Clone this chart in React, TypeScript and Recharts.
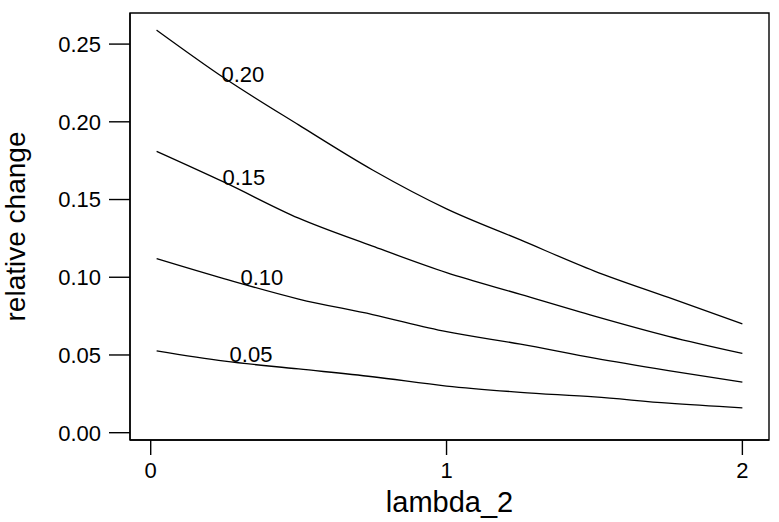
import { LineChart, Line, XAxis, YAxis, ReferenceDot, ReferenceArea } from "recharts";

// lambda_2 grid the contours were traced on
const lambdaValues = [0.02, 0.25, 0.5, 0.75, 1.0, 1.25, 1.5, 1.75, 2.0];

// relative change along each contour level
const level005 = [0.0526, 0.046, 0.041, 0.036, 0.030, 0.026, 0.023, 0.019, 0.016];
const level010 = [0.112, 0.099, 0.086, 0.076, 0.065, 0.057, 0.048, 0.040, 0.0325];
const level015 = [0.181, 0.161, 0.138, 0.120, 0.103, 0.089, 0.075, 0.062, 0.051];
const level020 = [0.259, 0.228, 0.198, 0.169, 0.144, 0.124, 0.104, 0.087, 0.070];

// contour label text and where it sits (data coords)
const labelText = ["0.05", "0.10", "0.15", "0.20"];
const labelX = [0.339, 0.376, 0.315, 0.3115];
const labelY = [0.0507, 0.1003, 0.1641, 0.2305];

const xTicks = [0, 1, 2];
const yTicks = [0, 0.05, 0.1, 0.15, 0.2, 0.25];
const xDomain: [number, number] = [-0.07, 2.09];
const yDomain: [number, number] = [-0.0047, 0.27];

const data = lambdaValues.map((x, i) => ({
  x,
  l005: level005[i],
  l010: level010[i],
  l015: level015[i],
  l020: level020[i],
}));

const FONT = '"Liberation Sans", Arial, Helvetica, sans-serif';
const tickStyle = { fill: "#000", fontSize: 22, fontFamily: FONT };
const axisStroke = { stroke: "#000", strokeWidth: 1.4 };

export default function App() {
  return (
    <div style={{ position: "absolute", left: 0, top: 0, background: "#fff" }}>
      <LineChart
        width={779}
        height={522}
        data={data}
        margin={{ top: 13, right: 10, bottom: 0, left: 0 }}
      >
        <XAxis
          dataKey="x"
          type="number"
          domain={xDomain}
          ticks={xTicks}
          tickFormatter={(v) => String(v)}
          height={82}
          tickSize={15}
          tickMargin={7}
          tick={tickStyle}
          axisLine={axisStroke}
          tickLine={axisStroke}
          label={{
            value: "lambda_2",
            position: "insideBottom",
            offset: 10,
            style: { fill: "#000", fontSize: 29, fontFamily: FONT },
          }}
        />
        <YAxis
          type="number"
          domain={yDomain}
          ticks={yTicks}
          tickFormatter={(v: number) => v.toFixed(2)}
          width={130}
          tickSize={21}
          tickMargin={8}
          tick={tickStyle}
          axisLine={axisStroke}
          tickLine={axisStroke}
          label={{
            value: "relative change",
            angle: -90,
            position: "insideLeft",
            offset: 15,
            style: { fill: "#000", fontSize: 28, fontFamily: FONT, textAnchor: "middle" },
          }}
        />
        {/* plot frame */}
        <ReferenceArea
          x1={xDomain[0]}
          x2={xDomain[1]}
          y1={yDomain[0]}
          y2={yDomain[1]}
          fill="none"
          stroke="#000"
          strokeWidth={1.4}
          ifOverflow="visible"
        />
        {["l005", "l010", "l015", "l020"].map((key) => (
          <Line
            key={key}
            dataKey={key}
            type="monotone"
            stroke="#000"
            strokeWidth={1.3}
            dot={false}
            activeDot={false}
            isAnimationActive={false}
          />
        ))}
        {labelText.map((t, i) => (
          <ReferenceDot
            key={t}
            x={labelX[i]}
            y={labelY[i]}
            r={0}
            fill="none"
            stroke="none"
            ifOverflow="visible"
            label={{
              value: t,
              position: "center",
              style: { fill: "#000", fontSize: 22, fontFamily: FONT },
            }}
          />
        ))}
      </LineChart>
    </div>
  );
}
